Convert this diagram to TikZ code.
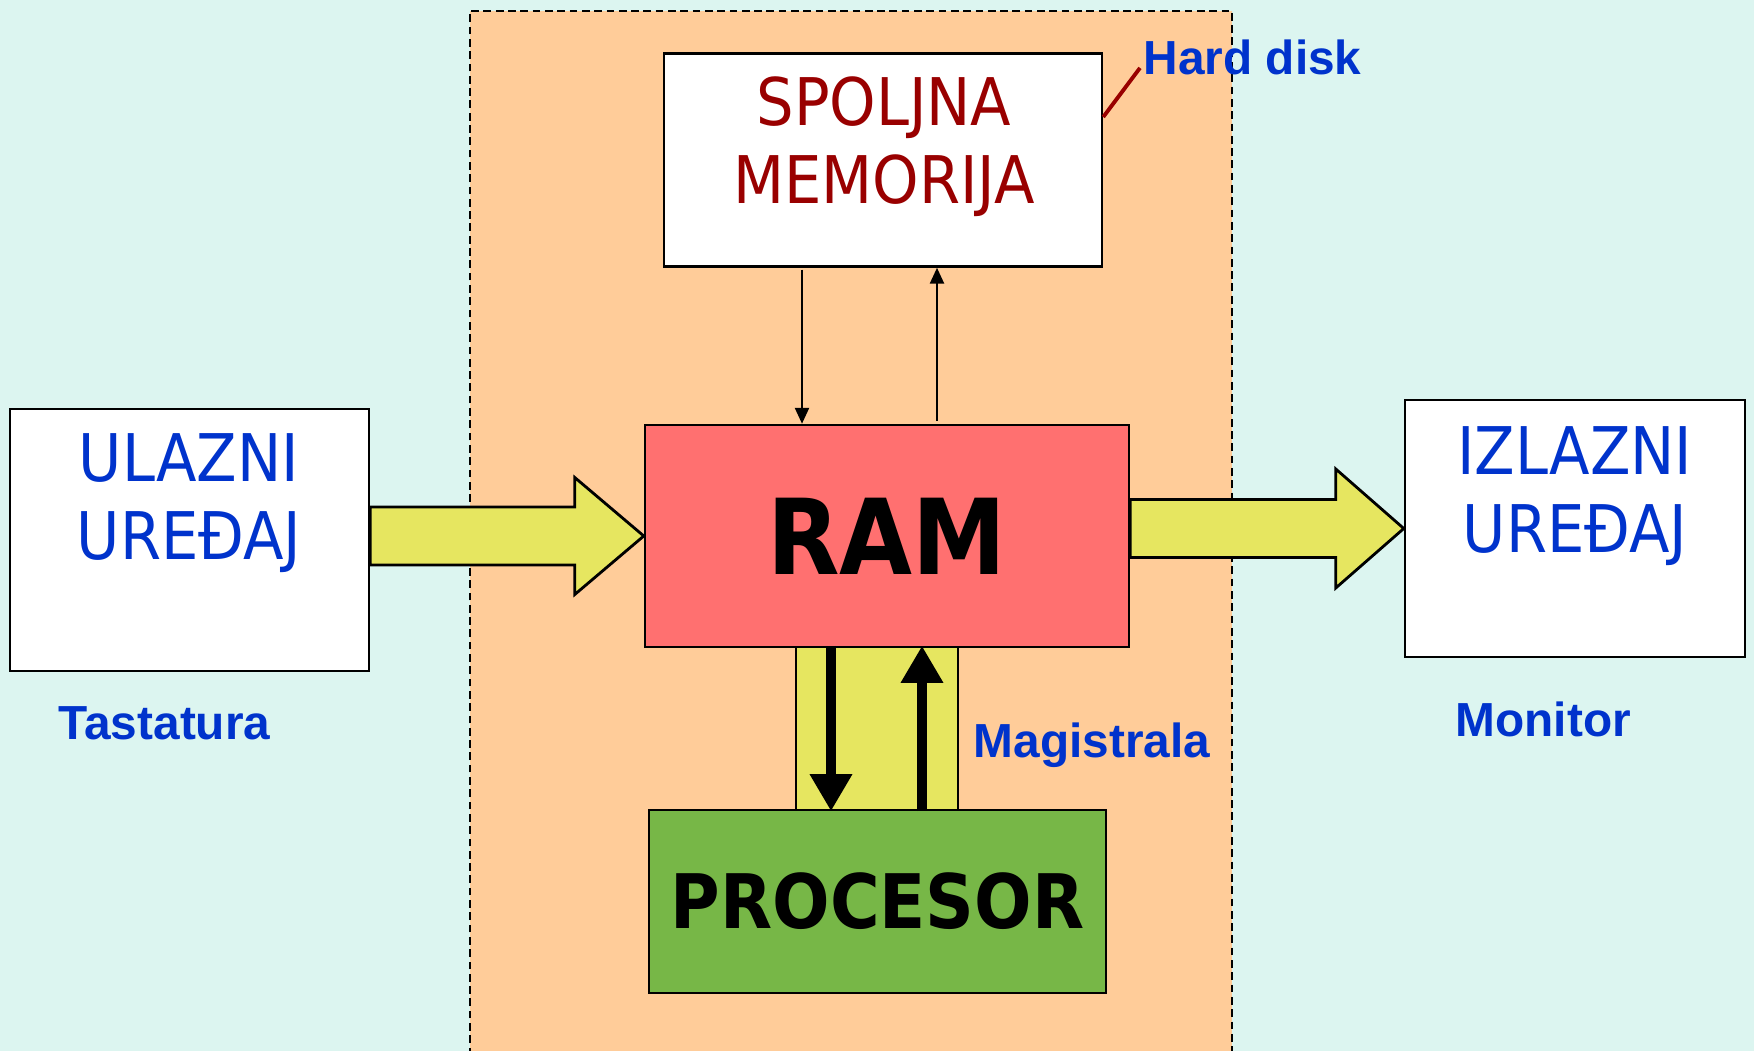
\documentclass[tikz,border=0pt]{standalone}
\usepackage{fontspec}
\usepackage{tikz}
\usetikzlibrary{arrows.meta}
\setmainfont{Liberation Sans}
\newfontfamily\boxfont{DejaVu Sans Condensed}
\newfontfamily\boxboldfont{DejaVu Sans Condensed Bold}

\definecolor{bgcyan}{RGB}{220,245,240}
\definecolor{cpuorange}{RGB}{255,204,153}
\definecolor{ramred}{RGB}{255,112,112}
\definecolor{cpugreen}{RGB}{119,183,71}
\definecolor{busyellow}{RGB}{230,230,96}
\definecolor{labelblue}{RGB}{0,51,204}
\definecolor{memred}{RGB}{153,0,0}

\tikzset{
  unit/.style={draw, line width=0.7pt, fill=white, inner sep=0pt},
  unittext/.style={align=center, inner sep=0pt, font=\boxfont\fontsize{18.7}{22.2}\selectfont},
  bigtext/.style={font=\boxboldfont\fontsize{#1}{#1}\selectfont},
  tag/.style={anchor=base west, inner sep=0pt, text=labelblue, font=\bfseries\fontsize{13.6}{16}\selectfont},
  bigarrow/.style={draw, fill=busyellow, line width=0.8pt, line join=miter},
  busarrow/.style={line width=3.1pt, -{Triangle[width=4mm,length=3.7mm]}},
  memarrow/.style={line width=0.7pt, -{Triangle[width=1.4mm,length=1.6mm]}}
}

\begin{document}
\begin{tikzpicture}
  \useasboundingbox (0,0) rectangle (17.54,-10.51);
  \clip (0,0) rectangle (17.54,-10.51);
  \fill[bgcyan] (0,0) rectangle (17.54,-10.51);

  % the computer itself
  \fill[cpuorange] (4.70,-0.11) rectangle (12.32,-10.8);
  \draw[line width=0.6pt, dash pattern=on 2.2pt off 1.3pt]
    (4.70,-10.8) -- (4.70,-0.11) -- (12.32,-0.11) -- (12.32,-10.8);

  % bus between RAM and processor
  \node[unit, fill=busyellow, minimum width=1.62cm, minimum height=1.63cm] (bus) at (8.77,-7.285) {};

  \node[unit, minimum width=4.38cm, minimum height=2.13cm] (spoljna) at (8.83,-1.60) {};
  \node[unittext, text=memred] (spoljna-txt) at (8.84,-1.47) {SPOLJNA\\MEMORIJA};

  \node[unit, fill=ramred, minimum width=4.84cm, minimum height=2.22cm, bigtext=29.8] (ram) at (8.87,-5.36) {RAM};
  \node[unit, fill=cpugreen, minimum width=4.57cm, minimum height=1.83cm, bigtext=21.4] (procesor) at (8.775,-9.015) {PROCESOR};

  \node[unit, minimum width=3.59cm, minimum height=2.62cm] (ulazni) at (1.895,-5.40) {};
  \node[unittext, text=labelblue] (ulazni-txt) at (1.89,-5.03) {ULAZNI\\UREĐAJ};

  \node[unit, minimum width=3.40cm, minimum height=2.57cm] (izlazni) at (15.75,-5.285) {};
  \node[unittext, text=labelblue] (izlazni-txt) at (15.75,-4.96) {IZLAZNI\\UREĐAJ};

  % labels
  \node[tag] (hdd) at (11.43,-0.75) {Hard disk};
  \node[tag] (tastatura) at (0.58,-7.40) {Tastatura};
  \node[tag] (magistrala) at (9.73,-7.57) {Magistrala};
  \node[tag] (monitor) at (14.55,-7.36) {Monitor};

  \draw[memred, line width=1.1pt] ([yshift=4.3mm]spoljna.east) -- ([shift={(-0.3mm,-1mm)}]hdd.west);

  % input and output arrows
  \coordinate (in-tail) at (ulazni.east |- ram.west);
  \draw[bigarrow] ([yshift=2.9mm]in-tail) -- ([shift={(-6.9mm,2.9mm)}]ram.west) -- ++(0,2.95mm)
    -- (ram.west) -- ++(-6.9mm,-5.85mm) -- ++(0,2.95mm) -- ([yshift=-2.9mm]in-tail) -- cycle;
  \coordinate (out-tail) at (ram.east |- izlazni.west);
  \draw[bigarrow] ([yshift=2.9mm]out-tail) -- ([shift={(-6.8mm,2.9mm)}]izlazni.west) -- ++(0,3.05mm)
    -- (izlazni.west) -- ++(-6.8mm,-5.95mm) -- ++(0,3.05mm) -- ([yshift=-2.9mm]out-tail) -- cycle;

  % RAM <-> external memory
  \draw[memarrow] ([xshift=-8.1mm,yshift=-0.2mm]spoljna.south) -- ([xshift=-8.1mm]spoljna.south |- ram.north);
  \draw[memarrow] ([xshift=5.4mm,yshift=0.3mm]spoljna.south |- ram.north) -- ([xshift=5.4mm]spoljna.south);

  % RAM <-> processor
  \draw[busarrow] ([xshift=-4.6mm]bus.north) -- ([xshift=-4.6mm]bus.south);
  \draw[busarrow] ([xshift=4.5mm]bus.south) -- ([xshift=4.5mm]bus.north);
\end{tikzpicture}
\end{document}
